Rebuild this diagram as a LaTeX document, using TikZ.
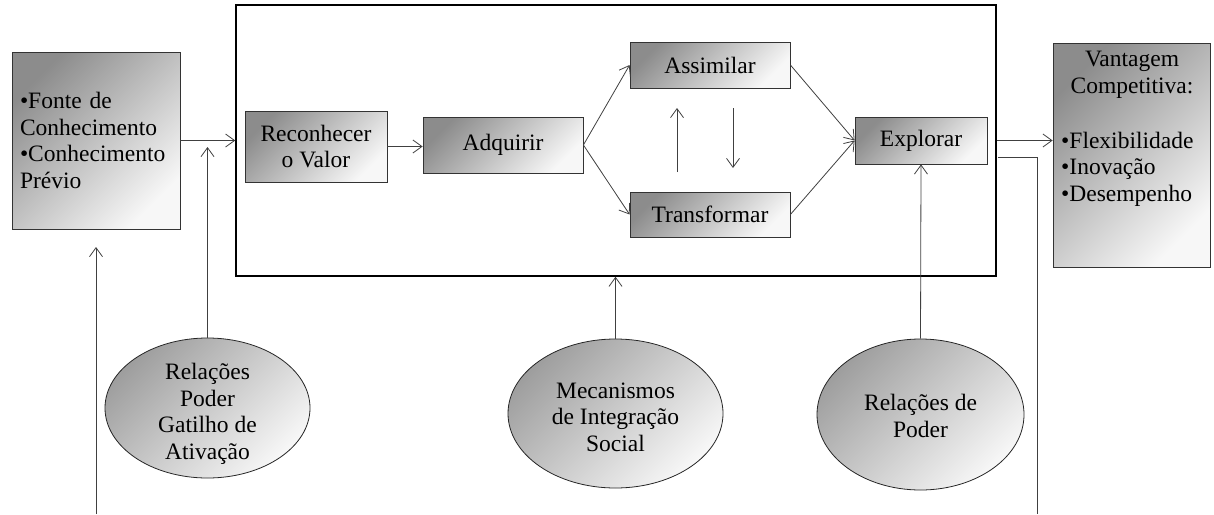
\documentclass[tikz,border=0pt]{standalone}
\usepackage{fontspec}
\setmainfont{Liberation Serif}
\usetikzlibrary{arrows.meta,shapes.geometric}
\tikzset{
  fnt/.style={font=\fontsize{23.5}{26.5}\selectfont},
  txt/.style={fnt, align=center, inner sep=0pt},
  gbox/.style={rectangle, draw=black!80, line width=0.8pt, inner sep=0pt, fnt, align=center,
    top color=black!45, bottom color=black!3, shading angle=45},
  gell/.style={ellipse, draw=black!85, line width=0.8pt, inner sep=0pt,
    top color=black!38, bottom color=black!3, shading angle=45},
  conn/.style={draw=black!75, line width=0.8pt},
  arr/.style={conn, -{Straight Barb[length=9pt,width=13pt]}},
}
\begin{document}
\begin{tikzpicture}[x=1pt,y=-1pt]
\useasboundingbox (0,0) rectangle (1214,514);

% frame
\node[rectangle, draw=black, line width=1.5pt, minimum width=760pt, minimum height=271pt, inner sep=0pt] (frame) at (616,140.5) {};

% boxes
\node[gbox, minimum width=168pt, minimum height=177pt, text width=152pt, align=left] (src) at (96,140.5)
  {\textbullet Fonte de\\Conhecimento\\\textbullet Conhecimento\\Prévio};
\node[gbox, minimum width=142pt, minimum height=71pt] (rec) at (316,146.5) {Reconhecer\\o Valor};
\node[gbox, minimum width=160pt, minimum height=56pt] (adq) at (503,145) {Adquirir};
\node[gbox, minimum width=160pt, minimum height=46pt] (ass) at (710,65) {Assimilar};
\node[gbox, minimum width=160pt, minimum height=45pt] (tra) at (710,214.5) {Transformar};
\node[gbox, minimum width=132pt, minimum height=47pt] (exp) at (921,140.5) {Explorar};
\node[gbox, minimum width=157pt, minimum height=224pt] (van) at (1131.5,155) {};
\node[txt] (vant) at (1132,75) {Vantagem\\Competitiva:};
\node[txt, align=left, anchor=west] (vanb) at (1061,169)
  {\textbullet Flexibilidade\\\textbullet Inovação\\\textbullet Desempenho};

% ellipses
\node[gell, minimum width=205pt, minimum height=140pt] (e1) at (207.5,408) {};
\node[txt] (e1t) at (207.5,414) {Relações\\Poder\\Gatilho de\\Ativação};
\node[gell, minimum width=215pt, minimum height=149pt] (e2) at (615.5,413.5) {};
\node[txt] (e2t) at (615.5,417) {Mecanismos\\de Integração\\Social};
\node[gell, minimum width=207pt, minimum height=151pt] (e3) at (920.5,414.5) {};
\node[txt] (e3t) at (920.5,416) {Relações de\\Poder};

% coordinates
\coordinate (c1) at (207.5,147);
\coordinate (upA) at (677,172);
\coordinate (upB) at (677,108);
\coordinate (dnA) at (733,108);
\coordinate (dnB) at (733,168);
\coordinate (r1) at (998,157);
\coordinate (r2) at (1037,157);
\coordinate (r3) at (1037,514);
\coordinate (l1) at (96,514);
\coordinate (l2) at (96,247);

% connectors
\draw[arr] (src.east) -- (src.east -| frame.west);
\draw[arr] (e1.north) -- (c1);
\draw[arr] (rec.east) -- (rec.east -| adq.west);
\draw[arr] (adq.east) -- (ass.west);
\draw[arr] (adq.east) -- (tra.west);
\draw[arr] (ass.east) -- (exp.west);
\draw[arr] (tra.east) -- (exp.west);
\draw[arr] (upA) -- (upB);
\draw[arr] (dnA) -- (dnB);
\draw[arr] (exp.east -| frame.east) -- (exp.east -| van.west);
\draw[conn] (r1) -- (r2) -- (r3);
\draw[arr] (l1) -- (l2);
\draw[arr] (e2.north) -- (e2.north |- frame.south);
\draw[arr] (e3.north) -- (exp.south);
\end{tikzpicture}
\end{document}
